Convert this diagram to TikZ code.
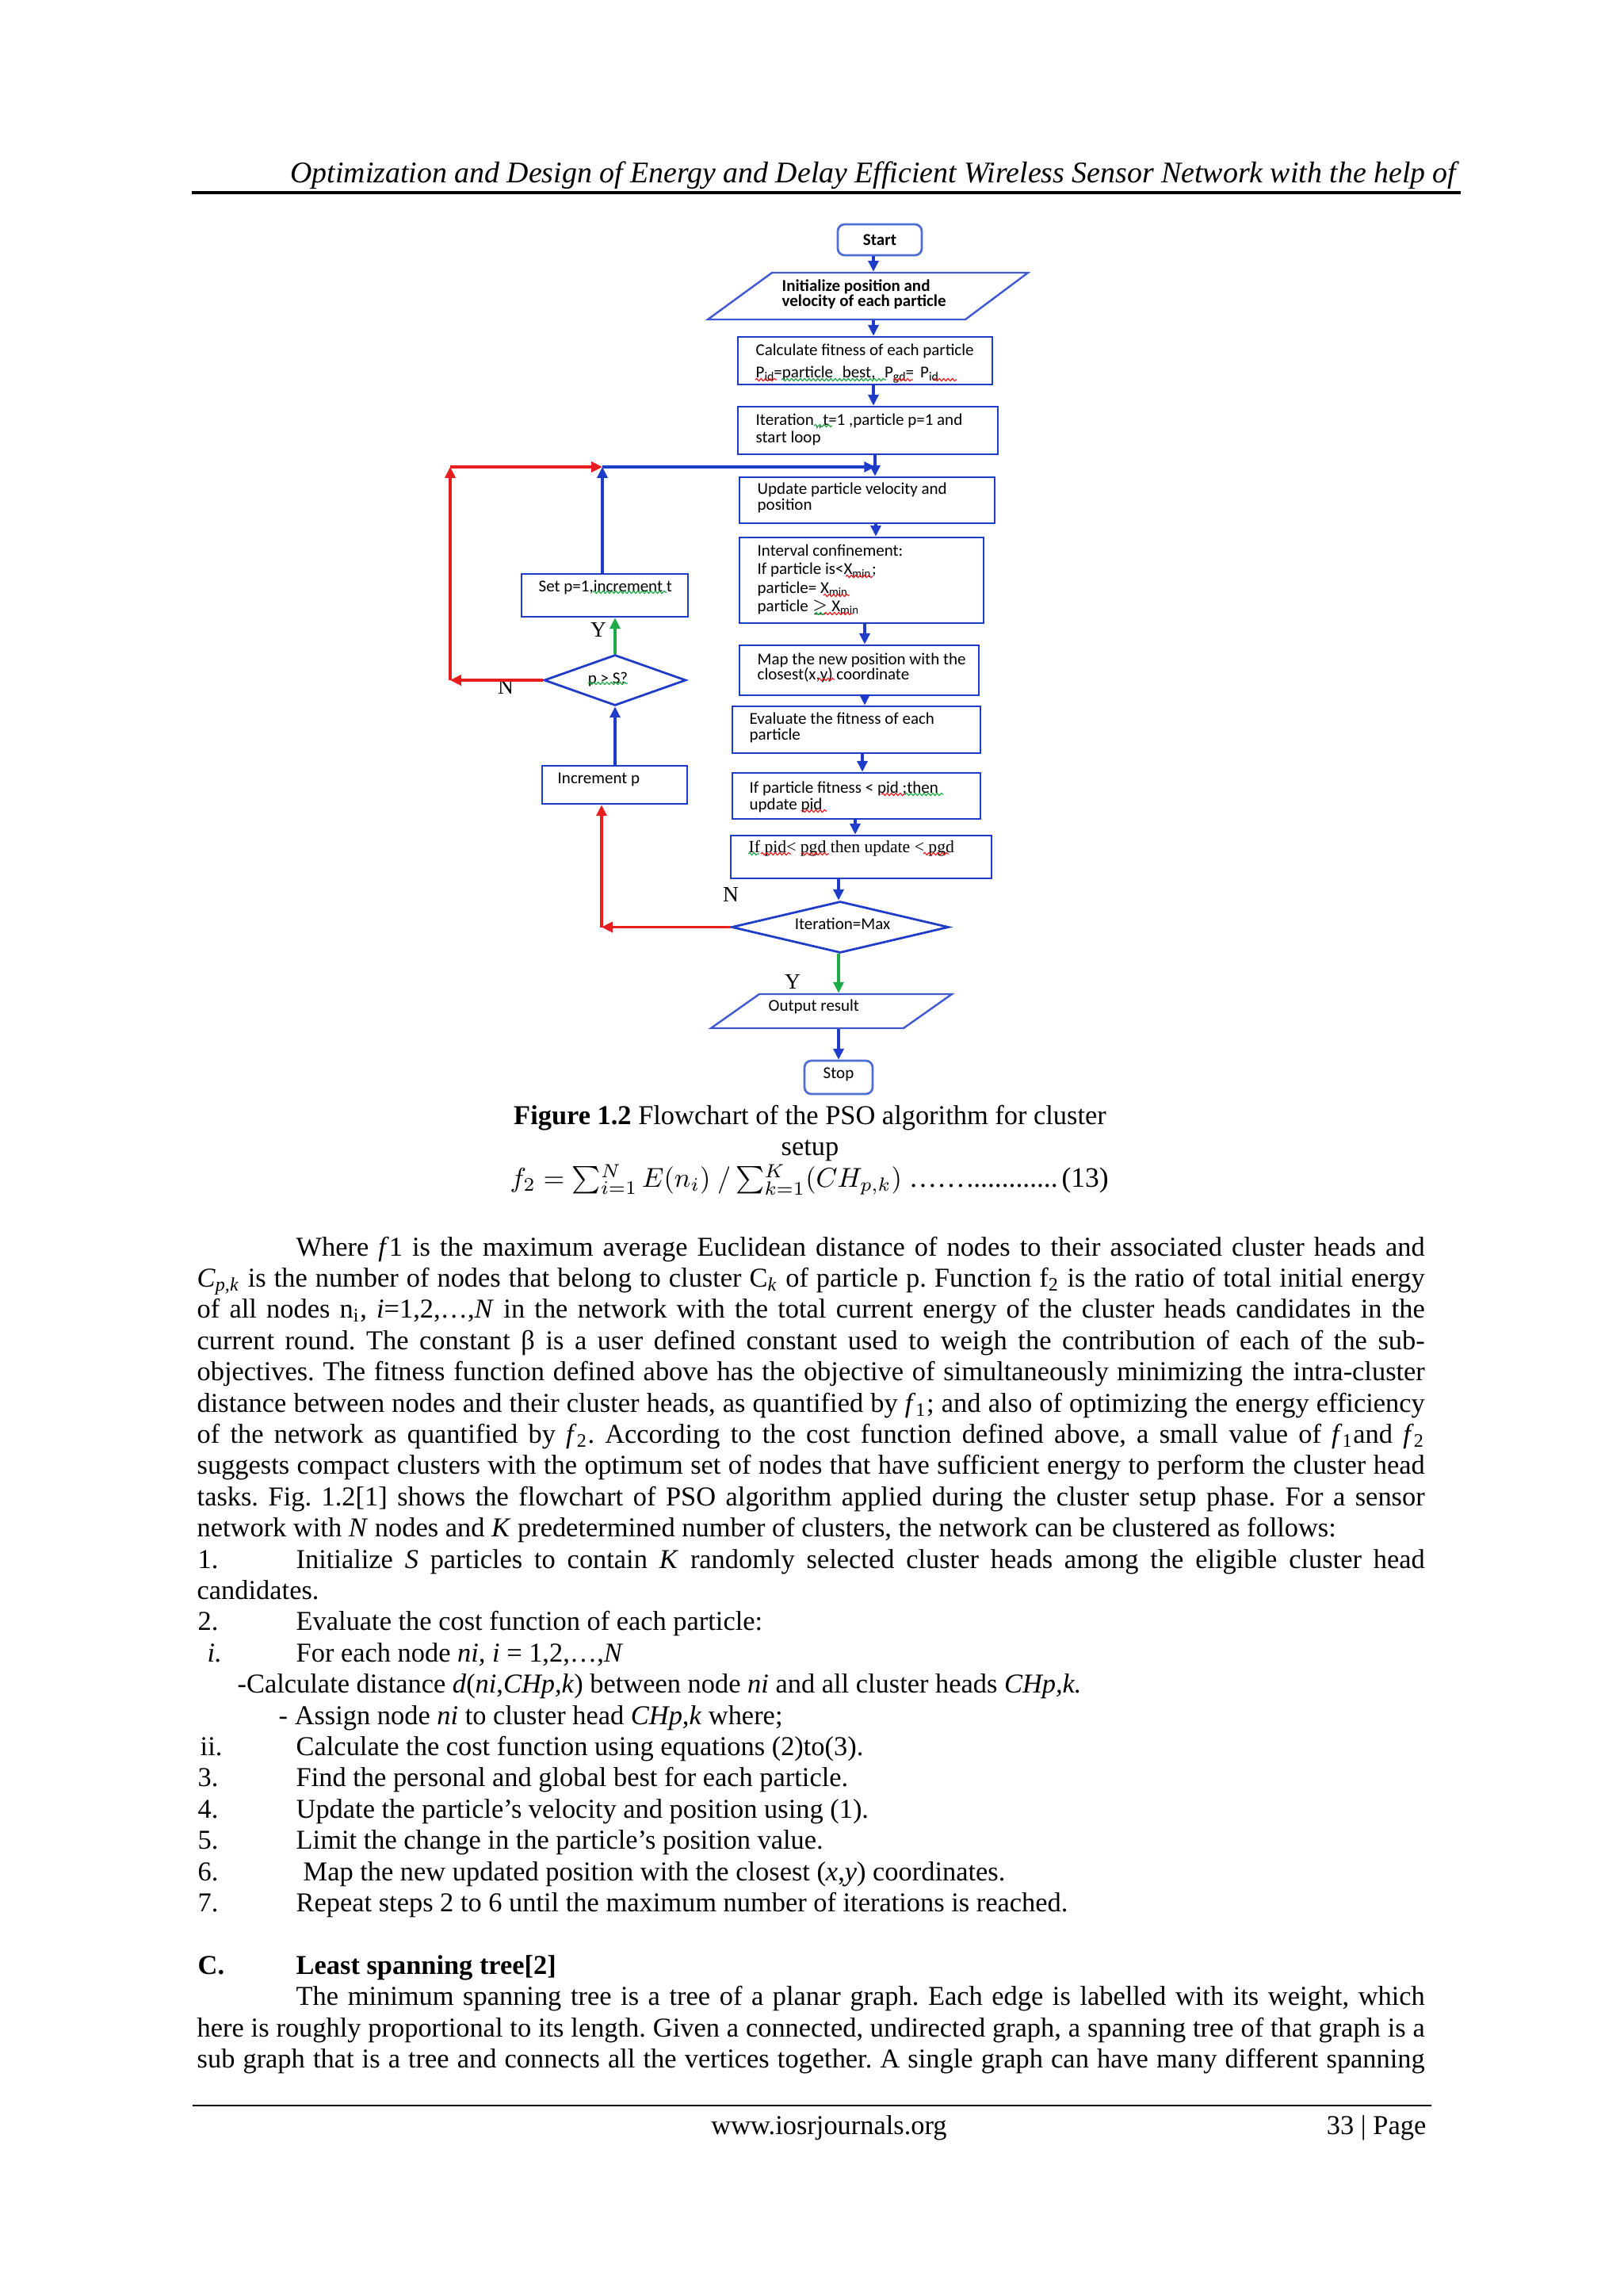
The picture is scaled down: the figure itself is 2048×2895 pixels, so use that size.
\documentclass[tikz,border=0pt]{standalone}
\usepackage{fontspec}
\setmainfont{Liberation Serif}
\newfontfamily\calfont{Carlito}
\usetikzlibrary{arrows.meta,decorations.pathmorphing,shapes.geometric}
\definecolor{fblue}{RGB}{30,60,200}
\definecolor{fred}{RGB}{230,30,30}
\definecolor{fgreen}{RGB}{30,170,70}
\definecolor{sblue}{RGB}{80,110,210}
\newlength\pxu \setlength\pxu{0.29066pt}
\newcommand\fcf{\calfont\fontsize{6.1}{6.4}\selectfont}
\newcommand\bodyf{\fontsize{10}{12}\selectfont}
\newcommand\sbs[1]{\raisebox{-1.2pt}{\fontsize{4.6}{5}\selectfont #1}}
\newcommand\lowsup[1]{\lower1.8pt\hbox{$\scriptstyle #1$}}
\newcommand\bx[6][]{\node[flowbox,#1,minimum width={(#5-#3)*\pxu},minimum height={(#6-#4)*\pxu}] (#2) at ({(#3+#5)/2},{(#4+#6)/2}) {};}
\newcommand\jline[5]{\node[bodytxt] (#1) at (#2,#3) {\makebox[#4\pxu][s]{#5}};}
\newcommand\pline[4]{\node[bodytxt] (#1) at (#2,#3) {#4};}
\frenchspacing
\begin{document}
\begin{tikzpicture}[x=0.29066pt,y=-0.29066pt,
  flowbox/.style={draw=fblue,line width=0.8pt,inner sep=0},
  ghost/.style={draw=none},
  endbox/.style={draw=sblue,line width=0.8pt,rounded corners=2.5pt},
  parastyle/.style={draw=fblue!85!white,line width=0.7pt},
  flowarr/.style={fblue,line width=0.9pt,-{Triangle[length=4pt,width=3.8pt]}},
  flowline/.style={fblue,line width=0.9pt},
  redarr/.style={fred,line width=0.9pt,-{Triangle[length=4pt,width=3.8pt]}},
  greenarr/.style={fgreen,line width=0.9pt,-{Triangle[length=4pt,width=3.8pt]}},
  ftxt/.style={inner sep=0,align=left,font=\fcf,anchor=north west},
  yn/.style={inner sep=0,font=\fontsize{8}{9}\selectfont},
  bodytxt/.style={inner sep=0,anchor=base west,font=\bodyf\frenchspacing},
  wavyr/.style={fred,line width=0.35pt,decorate,decoration={snake,amplitude=0.45pt,segment length=1.6pt}},
  wavyg/.style={fgreen,line width=0.35pt,decorate,decoration={snake,amplitude=0.45pt,segment length=1.6pt}}]
\useasboundingbox (0,0) rectangle (2048,2895);
\fill[white] (0,0) rectangle (2048,2895);

% header
\node[inner sep=0,anchor=base east,font=\itshape\fontsize{11}{13}\selectfont] (hdr) at (1838,230) {Optimization and Design of Energy and Delay Efficient Wireless Sensor Network with the help of};
\draw[line width=0.9pt] (242,243) -- (1843,243);

% ---------- flowchart ----------
\bx[endbox]{start}{1057}{283}{1163}{322}
\node[inner sep=0,font=\calfont\bfseries\fontsize{6.1}{7}\selectfont] (startT) at (start) {Start};

\bx[ghost]{init}{893}{344}{1297}{403}
\draw[parastyle] (974,344) -- (1297,344) -- (1218,403) -- (893,403) -- cycle;
\node[ftxt,font=\calfont\bfseries\fontsize{6.1}{5.6}\selectfont] (initT) at (986,352) {Initialize position and\\velocity of each particle};

\bx{calc}{931}{425}{1252}{485}
\node[ftxt,font=\calfont\fontsize{6.1}{8.1}\selectfont] (calcT) at (953,433) {Calculate fitness of each particle\\P\sbs{id}=particle\hspace{2pt} best,\hspace{2pt} P\sbs{gd}=\hspace{1pt} P\sbs{id}};

\bx{iter}{931}{513}{1259}{573}
\node[ftxt] (iterT) at (953,521) {Iteration\textsubscript{\,,,}t=1 ,particle p=1 and\\start loop};

\bx{upd}{933}{602}{1255}{660}
\node[ftxt,font=\calfont\fontsize{6.1}{5.9}\selectfont] (updT) at (955,608) {Update particle velocity and\\position};

\bx{intv}{933}{678}{1241}{786}
\node[ftxt,font=\calfont\fontsize{6.1}{6.8}\selectfont] (intvT) at (955,686) {Interval confinement:\\If particle is<X\textsubscript{min};\\particle= X\textsubscript{min}\\particle $\geq$ X\textsubscript{min}};

\bx{map}{933}{814}{1235}{877}
\node[ftxt,font=\calfont\fontsize{6.1}{5.6}\selectfont] (mapT) at (955,823) {Map the new position with the\\closest(x,y) coordinate};

\bx{eval}{924}{891}{1237}{950}
\node[ftxt,font=\calfont\fontsize{6.1}{5.9}\selectfont] (evalT) at (945,898) {Evaluate the fitness of each\\particle};

\bx{ifp}{924}{975}{1237}{1033}
\node[ftxt,font=\calfont\fontsize{6.1}{6.1}\selectfont] (ifpT) at (945,985) {If particle fitness < pid ;then\\update pid};

\bx{ifg}{922}{1054}{1251}{1108}
\node[ftxt,font=\fontsize{6.3}{7}\selectfont] (ifgT) at (944,1060) {If pid< pgd then update < pgd};

\node[diamond,draw=fblue,line width=0.8pt,inner sep=0,minimum width=274\pxu,minimum height=65\pxu] (dmax) at (1060,1169.5) {};
\node[inner sep=0,font=\fcf] (dmaxT) at (1063,1165) {Iteration=Max};

\bx[ghost]{out}{897}{1254}{1201}{1297}
\draw[parastyle] (958,1254) -- (1201,1254) -- (1140,1297) -- (897,1297) -- cycle;
\node[ftxt] (outT) at (969,1260) {Output result};

\bx[endbox]{stop}{1015}{1338}{1101}{1380}
\node[inner sep=0,font=\fcf] (stopT) at (1058,1355) {Stop};

\bx{setb}{658}{724}{868}{778}
\node[ftxt] (setT) at (679,731) {Set p=1,increment t};

\node[diamond,draw=fblue,line width=0.8pt,inner sep=0,minimum width=179\pxu,minimum height=64\pxu] (dps) at (776,858) {};
\node[inner sep=0,font=\fcf] (dpsT) at (767,857) {p > S?};

\bx{inc}{684}{966}{867}{1014}
\node[ftxt] (incT) at (703,974) {Increment p};

% labels
\node[yn] (lY1) at (755,794) {Y};
\node[yn] (lN1) at (638,866) {N};
\node[yn] (lN2) at (922,1128) {N};
\node[yn] (lY2) at (1000,1238) {Y};

% connectors
\coordinate (jn) at (1104,589);
\coordinate (cB) at (760,589);
\coordinate (cR) at (568,589);
\coordinate (cR2) at (759,1169.5);
\draw[flowarr] (start.south -| 1102,0) -- (init.north -| 1102,0);
\draw[flowarr] (init.south -| 1102,0) -- (calc.north -| 1102,0);
\draw[flowarr] (calc.south -| 1102,0) -- (iter.north -| 1102,0);
\draw[flowline] (iter.south -| jn) -- (jn);
\draw[flowarr] (jn) -- (upd.north -| jn);
\draw[flowarr] (upd.south -| 1105,0) -- (intv.north -| 1105,0);
\draw[flowarr] (intv.south -| 1091,0) -- (map.north -| 1091,0);
\draw[flowarr] (map.south -| 1091,0) -- (eval.north -| 1091,0);
\draw[flowarr] (eval.south -| 1088,0) -- (ifp.north -| 1088,0);
\draw[flowarr] (ifp.south -| 1079,0) -- (ifg.north -| 1079,0);
\draw[flowarr] (ifg.south -| 1058,0) -- (dmax.north -| 1058,0);
\draw[greenarr] (dmax.south -| 1058,0) -- (out.north -| 1058,0);
\draw[flowarr] (out.south -| 1058,0) -- (stop.north -| 1058,0);
\draw[redarr] (dmax.west) -- (cR2);
\draw[redarr] (cR2) -- (inc.south -| cR2);
\draw[flowarr] (inc.north -| dps.south) -- (dps.south);
\draw[greenarr] (dps.north) -- (setb.south -| dps.north);
\draw[redarr] (dps.west) -- (dps.west -| cR);
\draw[redarr] (dps.west -| cR) -- (cR);
\draw[redarr] (cR) -- (cB);
\draw[flowarr] (setb.north -| cB) -- (cB);
\draw[flowarr] (cB) -- (jn);

% spell-check underlines
\draw[wavyr] (953,479) -- (980,479);
\draw[wavyg] (986,479) -- (1118,479);
\draw[wavyr] (1127,479) -- (1152,479);
\draw[wavyr] (1178,479) -- (1207,479);
\draw[wavyg] (1027,537) -- (1050,537);
\draw[wavyg] (748,747) -- (841,747);
\draw[wavyr] (1067,727) -- (1101,727);
\draw[wavyr] (1039,751) -- (1072,751);
\draw[wavyg] (1028,774) -- (1040,774);
\draw[wavyr] (1040,774) -- (1076,774);
\draw[wavyr] (1032,857) -- (1053,857);
\draw[wavyg] (742,862) -- (792,862);
\draw[wavyr] (1112,1002) -- (1142,1002);
\draw[wavyg] (1142,1002) -- (1190,1002);
\draw[wavyr] (1011,1023) -- (1043,1023);
\draw[wavyg] (944,1077) -- (958,1077);
\draw[wavyr] (960,1077) -- (998,1077);
\draw[wavyr] (1011,1077) -- (1046,1077);
\draw[wavyr] (1165,1077) -- (1197,1077);

% ---------- caption and equation ----------
\node[inner sep=0,anchor=base,font=\fontsize{10}{12}\selectfont] (cap1) at (1022,1418) {\textbf{Figure 1.2} Flowchart of the PSO algorithm for cluster};
\node[inner sep=0,anchor=base,font=\fontsize{10}{12}\selectfont] (cap2) at (1022,1457) {setup};
\node[inner sep=0,anchor=base west,font=\fontsize{10.3}{12}\selectfont] (eqn) at (643,1497) {\hbox to 755\pxu{$f_2=\sum\nolimits_{i=1}^{\lowsup{N}}E(n_i)\ /\sum\nolimits_{k=1}^{\lowsup{K}}(CH_{p,k})$\ ……\leaders\hbox{.}\hfill(13)}};

% ---------- body text ----------
\jline{p1}{373}{1584}{1424}{Where \textit{f}1 is the maximum average Euclidean distance of nodes to their associated cluster heads and}
\jline{p2}{248}{1623.4}{1549}{\textit{C}\textsubscript{\textit{p,k}} is the number of nodes that belong to cluster C\textsubscript{\textit{k}} of particle p. Function f\textsubscript{2} is the ratio of total initial energy}
\jline{p3}{248}{1662.8}{1549}{of all nodes n\textsubscript{i}, \textit{i}=1,2,…,\textit{N} in the network with the total current energy of the cluster heads candidates in the}
\jline{p4}{248}{1702.2}{1549}{current round. The constant β is a user defined constant used to weigh the contribution of each of the sub-}
\jline{p5}{248}{1741.6}{1549}{objectives. The fitness function defined above has the objective of simultaneously minimizing the intra-cluster}
\jline{p6}{248}{1781}{1549}{distance between nodes and their cluster heads, as quantified by \textit{f}\textsubscript{1}; and also of optimizing the energy efficiency}
\jline{p7}{248}{1820.4}{1549}{of the network as quantified by \textit{f}\textsubscript{2}. According to the cost function defined above, a small value of \textit{f}\textsubscript{1}and \textit{f}\textsubscript{2}}
\jline{p8}{248}{1859.8}{1549}{suggests compact clusters with the optimum set of nodes that have sufficient energy to perform the cluster head}
\jline{p9}{248}{1899.2}{1549}{tasks. Fig. 1.2[1] shows the flowchart of PSO algorithm applied during the cluster setup phase. For a sensor}
\pline{p10}{248}{1938.6}{network with \textit{N} nodes and \textit{K} predetermined number of clusters, the network can be clustered as follows:}

\pline{n1}{249}{1978}{1.}
\jline{l1}{373}{1978}{1424}{Initialize \textit{S} particles to contain \textit{K} randomly selected cluster heads among the eligible cluster head}
\pline{l1b}{248}{2017.4}{candidates.}
\pline{n2}{249}{2056.8}{2.}
\pline{l2}{373}{2056.8}{Evaluate the cost function of each particle:}
\pline{n2i}{261}{2096.2}{\textit{i.}}
\pline{l2i}{373}{2096.2}{For each node \textit{ni, i} = 1,2,…,\textit{N}}
\pline{l2a}{299}{2135.6}{-Calculate distance \textit{d}(\textit{ni},\textit{CHp,k}) between node \textit{ni} and all cluster heads \textit{CHp,k.}}
\pline{l2b}{351}{2175}{- Assign node \textit{ni} to cluster head \textit{CHp,k} where;}
\pline{n2ii}{252}{2214.4}{ii.}
\pline{l2ii}{373}{2214.4}{Calculate the cost function using equations (2)to(3).}
\pline{n3}{249}{2253.8}{3.}
\pline{l3}{373}{2253.8}{Find the personal and global best for each particle.}
\pline{n4}{249}{2293.2}{4.}
\pline{l4}{373}{2293.2}{Update the particle’s velocity and position using (1).}
\pline{n5}{249}{2332.6}{5.}
\pline{l5}{373}{2332.6}{Limit the change in the particle’s position value.}
\pline{n6}{249}{2372}{6.}
\pline{l6}{382}{2372}{Map the new updated position with the closest (\textit{x},\textit{y}) coordinates.}
\pline{n7}{249}{2411.4}{7.}
\pline{l7}{373}{2411.4}{Repeat steps 2 to 6 until the maximum number of iterations is reached.}

\pline{secC}{249}{2490.2}{\textbf{C.}}
\pline{secT}{373}{2490.2}{\textbf{Least spanning tree[2]}}
\jline{q1}{373}{2529.6}{1424}{The minimum spanning tree is a tree of a planar graph. Each edge is labelled with its weight, which}
\jline{q2}{248}{2569}{1549}{here is roughly proportional to its length. Given a connected, undirected graph, a spanning tree of that graph is a}
\jline{q3}{248}{2608.4}{1549}{sub graph that is a tree and connects all the vertices together. A single graph can have many different spanning}

% footer
\draw[line width=0.7pt] (243,2656) -- (1806,2656);
\node[inner sep=0,anchor=base,font=\bodyf] (url) at (1046,2692) {www.iosrjournals.org};
\node[inner sep=0,anchor=base east,font=\bodyf] (pg) at (1800,2692) {33 | Page};
\end{tikzpicture}
\end{document}
